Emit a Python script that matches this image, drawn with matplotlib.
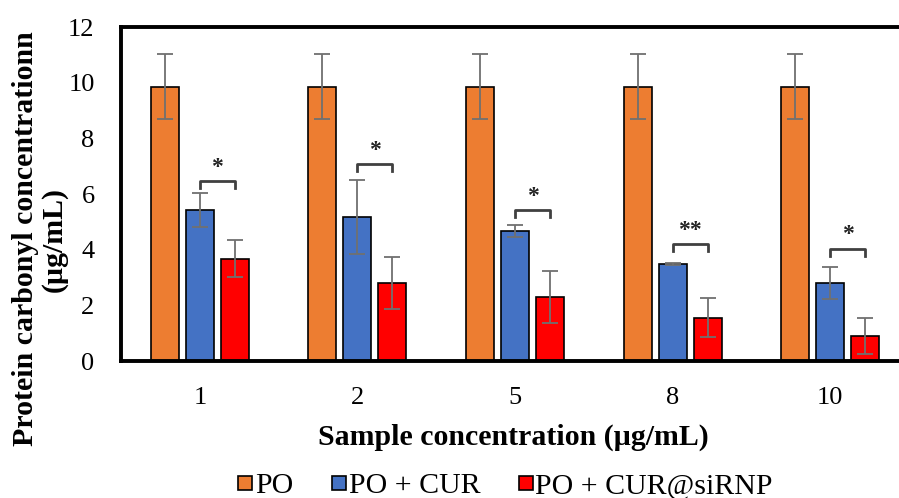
import numpy as np
import matplotlib.pyplot as plt
from matplotlib.lines import Line2D

# Data
groups = ['1', '2', '5', '8', '10']
series = ['PO', 'PO + CUR', 'PO + CUR@siRNP']
po = [9.85, 9.85, 9.85, 9.85, 9.85]
po_err = [1.17, 1.17, 1.17, 1.17, 1.17]
cur = [5.43, 5.18, 4.68, 3.49, 2.80]
cur_err = [0.60, 1.33, 0.22, 0.04, 0.56]
sirnp = [3.67, 2.80, 2.30, 1.55, 0.90]
sirnp_err = [0.66, 0.93, 0.95, 0.70, 0.66]
bracket_y = [6.47, 7.08, 5.43, 4.20, 4.03]
stars = ['*', '*', '*', '**', '*']

colors = ['#ED7D31', '#4472C4', '#FF0000']

plt.rcParams['font.family'] = ['Liberation Serif', 'DejaVu Serif']

fig = plt.figure(figsize=(8.99, 4.98), dpi=100)
ax = fig.add_axes([121 / 899, (498 - 361) / 498, (909 - 121) / 899, (361 - 27) / 498])

x = np.arange(len(groups))
w = 0.177
pitch = 0.222
vals = [po, cur, sirnp]
errs = [po_err, cur_err, sirnp_err]
for i in range(3):
    ax.bar(x + (i - 1) * pitch, vals[i], w, color=colors[i], edgecolor='black', linewidth=1.2,
           yerr=errs[i], error_kw=dict(ecolor='#707070', elinewidth=1.3, capsize=6, capthick=1.3),
           zorder=2)

# significance brackets
leg = 0.25
for j in range(len(groups)):
    x0 = x[j]
    x1 = x[j] + pitch
    y = bracket_y[j]
    ax.plot([x0, x0, x1, x1], [y - leg, y, y, y - leg], color='#404040', lw=2.0,
            solid_joinstyle='round', zorder=3)
    ax.text((x0 + x1) / 2, y + 0.12, stars[j], ha='center', va='bottom', fontsize=17,
            fontweight='bold', color='#222222')

ax.set_xlim(-0.5, len(groups) - 0.5)
ax.set_ylim(0, 12)
ax.set_yticks(range(0, 13, 2))
ax.set_xticks(x)
ax.set_xticklabels(groups)
ax.tick_params(axis='both', length=0, labelsize=19)
ax.tick_params(axis='y', pad=19)
ax.tick_params(axis='x', pad=19)
for s in ax.spines.values():
    s.set_linewidth(2.8)
    s.set_color('black')

fig.text(513 / 899, (498 - 437) / 498, 'Sample concentration (µg/mL)', fontsize=21.5,
         fontweight='bold', ha='center', va='center')
fig.text(40 / 899, (498 - 239) / 498, 'Protein carbonyl concentrationn\n(µg/mL)', fontsize=21.5,
         fontweight='bold', ha='center', va='center', rotation=90, multialignment='center',
         linespacing=1.1)

handles = [Line2D([], [], marker='s', linestyle='none', markersize=10.5, markerfacecolor=c,
                  markeredgecolor='black', markeredgewidth=1.2) for c in colors]
fig.legend(handles, series, loc='center', bbox_to_anchor=(505 / 899, 0.024), ncol=3, frameon=False,
           fontsize=21.5, handletextpad=0.05, columnspacing=1.25, handlelength=0.55,
           borderpad=0.0)

fig.savefig('out.png', dpi=100)
